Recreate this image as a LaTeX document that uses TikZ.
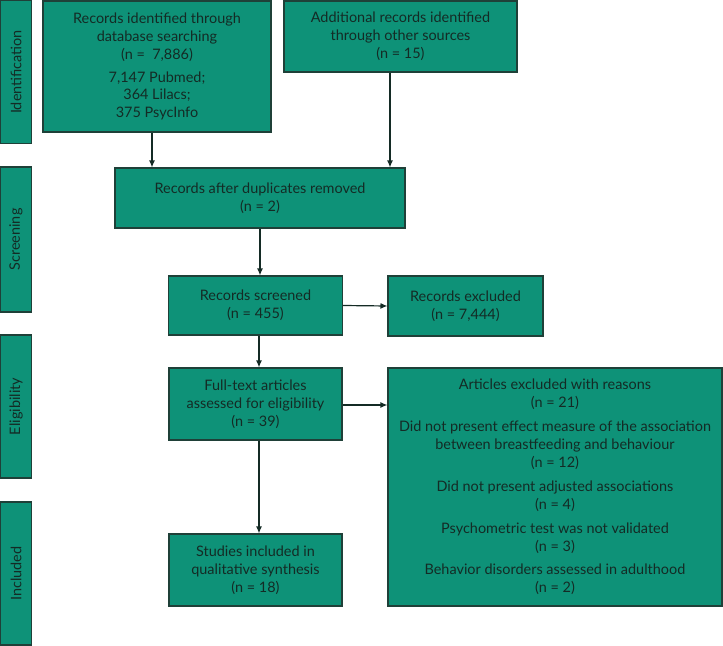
\documentclass[tikz,border=0pt]{standalone}
\usepackage{fontspec}
\setmainfont{Lato}
\usetikzlibrary{arrows.meta}
\definecolor{boxteal}{HTML}{0E9278}
\definecolor{edgegreen}{HTML}{1F4038}
\definecolor{inkgreen}{HTML}{142B25}

\begin{document}
\begin{tikzpicture}[x=1bp, y=-1bp,
  every node/.style={font=\fontsize{14.5}{18}\selectfont, text=inkgreen},
  flowbox/.style={draw=edgegreen, fill=boxteal, line width=1.1pt, align=center, inner sep=0pt},
  stagebar/.style={draw=edgegreen, fill=boxteal, line width=1.1pt, minimum height=31bp, rotate=90, inner sep=0pt},
  arr/.style={-{Latex[length=7pt,width=6pt]}, line width=1.2pt, draw=inkgreen}]
  \useasboundingbox (0,0) rectangle (723,646);
  % stage labels on the left
  \node[stagebar, minimum width=143bp] (idbar) at (16,72) {Identification};
  \node[stagebar, minimum width=145bp] (scrbar) at (16,239.5) {Screening};
  \node[stagebar, minimum width=143bp] (elibar) at (16,406.5) {Eligibility};
  \node[stagebar, minimum width=143bp] (incbar) at (16,573.5) {Included};
  % boxes
  \node[flowbox, minimum width=228bp, minimum height=131bp] (ident) at (157,66.5)
    {Records identified through\\database searching\\(n = \ 7,886)\\[5pt]7,147 Pubmed;\\364 Lilacs;\\375 PsycInfo};
  \node[flowbox, minimum width=233bp, minimum height=71bp] (extra) at (400.5,36.5)
    {Additional records identified\\through other sources\\(n = 15)};
  \node[flowbox, minimum width=290bp, minimum height=60bp] (dedup) at (260,198)
    {Records after duplicates removed\\(n = 2)};
  \node[flowbox, minimum width=174bp, minimum height=59bp] (screened) at (255.5,305.5)
    {Records screened\\(n = 455)};
  \node[flowbox, minimum width=155bp, minimum height=60bp] (excluded) at (465.5,306)
    {Records excluded\\(n = 7,444)};
  \node[flowbox, minimum width=173bp, minimum height=72bp] (fulltext) at (255.5,404)
    {Full-text articles\\assessed for eligibility\\(n = 39)};
  \node[flowbox, minimum width=334bp, minimum height=238bp] (reasons) at (555,487)
    {Articles excluded with reasons\\(n = 21)\\[6pt]Did not present effect measure of the association\\between breastfeeding and behaviour\\(n = 12)\\[6pt]Did not present adjusted associations\\(n = 4)\\[6pt]Psychometric test was not validated\\(n = 3)\\[6pt]Behavior disorders assessed in adulthood\\(n = 2)};
  \node[flowbox, minimum width=173bp, minimum height=72bp] (studies) at (255.5,570)
    {Studies included in\\qualitative synthesis\\(n = 18)};
  % connectors
  \draw[arr] ([xshift=-5bp]ident.south) -- ([xshift=-5bp]ident.south |- dedup.north);
  \draw[arr] ([xshift=-10.5bp]extra.south) -- ([xshift=-10.5bp]extra.south |- dedup.north);
  \draw[arr] (dedup.south) -- (dedup.south |- screened.north);
  \draw[arr] (screened.east) -- (excluded.west);
  \draw[arr] ([xshift=3.5bp]screened.south) -- ([xshift=3.5bp]screened.south |- fulltext.north);
  \draw[arr] ([yshift=-1bp]fulltext.east) -- ([yshift=-1bp]fulltext.east -| reasons.west);
  \draw[arr] ([xshift=3.5bp]fulltext.south) -- ([xshift=3.5bp]fulltext.south |- studies.north);
\end{tikzpicture}
\end{document}
